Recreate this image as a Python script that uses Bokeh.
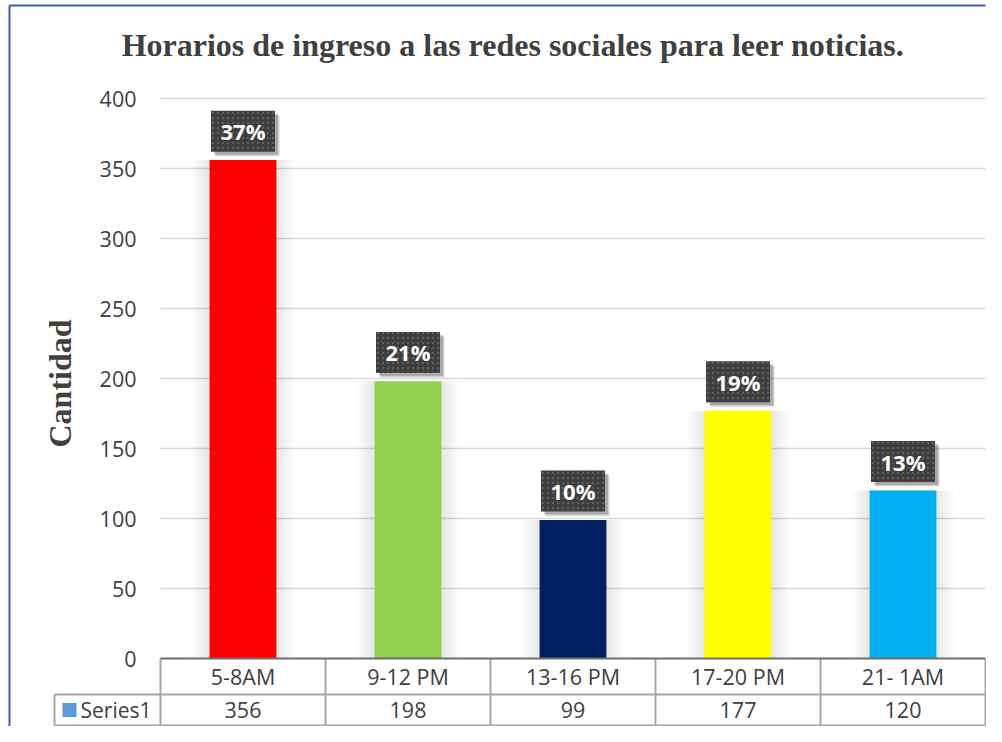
from bokeh.plotting import figure
from bokeh.models import Range1d
from bokeh.core.properties import value
from bokeh.embed import file_html
from bokeh.resources import INLINE

# ---- data ----
categories = ["5-8AM", "9-12 PM", "13-16 PM", "17-20 PM", "21- 1AM"]
counts = [356, 198, 99, 177, 120]
pct_labels = ["37%", "21%", "10%", "19%", "13%"]
bar_colors = ["#FF0000", "#92D050", "#002060", "#FFFF00", "#00B0F0"]
y_ticks = [0, 50, 100, 150, 200, 250, 300, 350, 400]
series_name = "Series1"
title_text = "Horarios de ingreso a las redes sociales para leer noticias."
y_label = "Cantidad"

# ---- layout (pixel -> data helpers) ----
W, H = 986, 726
PX0, PXW = 160.0, 165.0      # plot-area left pixel, pixels per category
PY0, PYU = 658.0, 1.4        # pixel of value 0, pixels per unit


def X(px):
    return (px - PX0) / PXW


def Y(py):
    return (PY0 - py) / PYU


p = figure(width=W, height=H, output_backend="svg", toolbar_location=None,
           x_range=Range1d(X(0), X(W)), y_range=Range1d(Y(H), Y(0)),
           min_border=0, min_border_left=0, min_border_right=0,
           min_border_top=0, min_border_bottom=0)
p.axis.visible = False
p.grid.visible = False
p.outline_line_color = None
p.background_fill_color = "white"
p.border_fill_color = "white"

n = len(categories)
xc = [i + 0.5 for i in range(n)]

# gridlines
grid_y = [t for t in y_ticks if t > 0]
p.segment(x0=[0] * len(grid_y), x1=[n] * len(grid_y), y0=grid_y, y1=grid_y,
          line_color="#D9D9D9", line_width=1.5)

# soft shadows around bars
for k in range(1, 9):
    p.vbar(x=xc, top=counts, bottom=0, width=0.405 + k * 0.028,
           fill_color="black", fill_alpha=0.011, line_color=None)

# bars
p.vbar(x=xc, top=counts, bottom=0, width=0.405, fill_color=bar_colors,
       line_color=None)

# y tick labels
p.text(x=[X(136)] * len(y_ticks), y=y_ticks, text=[str(t) for t in y_ticks],
       text_align="right", text_baseline="middle", text_color="#404040",
       text_font=value("Open Sans"), text_font_size="21.5px")

# data label boxes
box_h_px, gap_px = 41, 8.4
box_y = [c + (gap_px + box_h_px / 2) / PYU for c in counts]
for dx, dy, a in [(3, 3, 0.18), (4, 4, 0.12), (5, 5, 0.07)]:
    p.rect(x=[x + dx / PXW for x in xc], y=[b - dy / PYU for b in box_y],
           width=64, height=box_h_px, width_units="screen",
           height_units="screen", fill_color="black", fill_alpha=a,
           line_color=None)
p.rect(x=xc, y=box_y, width=64, height=box_h_px, width_units="screen",
       height_units="screen", fill_color="#3D3D3D", line_color=None,
       hatch_pattern="dot", hatch_color="#5E5E5E", hatch_scale=5,
       hatch_weight=1.5)
p.text(x=xc, y=box_y, text=pct_labels, text_align="center",
       text_baseline="middle", text_color="white",
       text_font=value("Open Sans"), text_font_style="bold",
       text_font_size="22px")

# data table
row1, row2 = Y(694), Y(725)
legend_left = X(54)
grid_c = "#A6A6A6"
# vertical lines
p.segment(x0=list(range(n + 1)), x1=list(range(n + 1)),
          y0=[0] * (n + 1), y1=[row2] * (n + 1), line_color=grid_c,
          line_width=2)
p.segment(x0=[legend_left], x1=[legend_left], y0=[row1], y1=[row2],
          line_color=grid_c, line_width=2)
p.segment(x0=[legend_left, legend_left], x1=[n, n], y0=[row1, row2],
          y1=[row1, row2], line_color=grid_c, line_width=2)
# axis line on top of table
p.segment(x0=[0], x1=[n], y0=[0], y1=[0], line_color="#6E6E6E", line_width=2)

p.text(x=xc, y=[(0 + row1) / 2] * n, text=categories, text_align="center",
       text_baseline="middle", text_color="#404040",
       text_font=value("Open Sans"), text_font_size="21.5px")
p.text(x=xc, y=[(row1 + row2) / 2] * n, text=[str(c) for c in counts],
       text_align="center", text_baseline="middle", text_color="#404040",
       text_font=value("Open Sans"), text_font_size="21.5px")
# legend key
p.rect(x=[X(69)], y=[(row1 + row2) / 2], width=14, height=14,
       width_units="screen", height_units="screen", fill_color="#5B9BD5",
       line_color=None)
p.text(x=[X(80)], y=[(row1 + row2) / 2], text=[series_name],
       text_align="left", text_baseline="middle", text_color="#404040",
       text_font=value("Open Sans"), text_font_size="21px")

# title
p.text(x=[X(512.5)], y=[Y(44)], text=[title_text], text_align="center",
       text_baseline="middle", text_color="#404040",
       text_font=value("Liberation Serif"), text_font_style="bold",
       text_font_size="32px")

# y axis label
p.text(x=[X(59.5)], y=[Y(383)], text=[y_label], angle=1.5707963,
       text_align="center", text_baseline="alphabetic", text_color="#404040",
       text_font=value("Liberation Serif"), text_font_style="bold",
       text_font_size="32px")

# chart border (left and top edges)
p.segment(x0=[X(9), X(9)], x1=[X(9), X(W - 1)], y0=[Y(H), Y(5)],
          y1=[Y(5), Y(5)], line_color="#3B5EA6", line_width=2)

open("out.html", "w").write(file_html(p, INLINE))
